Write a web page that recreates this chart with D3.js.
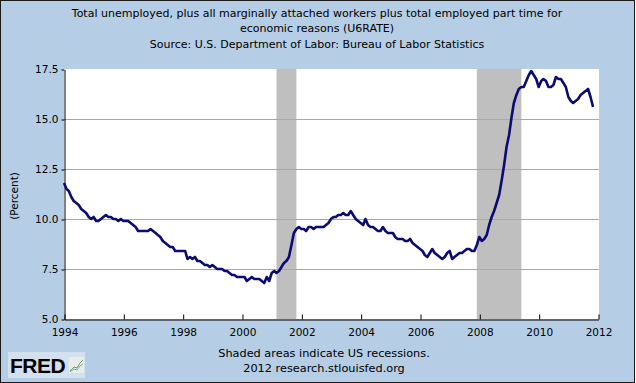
<!DOCTYPE html>
<html>
<head>
<meta charset="utf-8">
<script src="https://cdn.jsdelivr.net/npm/d3@7"></script>
<style>
  html, body { margin: 0; padding: 0; background: #fff; }
  svg { display: block; }
  text { font-family: "DejaVu Sans", Verdana, sans-serif; fill: #000; }
</style>
</head>
<body>
<div id="chart"></div>
<script>
"use strict"

// chart text
const titleLines = [
  "Total unemployed, plus all marginally attached workers plus total employed part time for",
  "economic reasons (U6RATE)",
  "Source: U.S. Department of Labor: Bureau of Labor Statistics"
];
const footerLines = ["Shaded areas indicate US recessions.", "2012 research.stlouisfed.org"];
const yLabel = "(Percent)";

// axis ticks
const yTicks = [5.0, 7.5, 10.0, 12.5, 15.0, 17.5];
const xTickYears = [1994, 1996, 1998, 2000, 2002, 2004, 2006, 2008, 2010, 2012];

// recessions (start month, end month)
const recessionStarts = ["2001-03", "2007-12"];
const recessionEnds = ["2001-11", "2009-06"];

// U6 rate, monthly, one row per year starting Jan 1994
const u6ByYear = [
  [11.8, 11.5, 11.4, 11.1, 10.9, 10.8, 10.7, 10.5, 10.4, 10.3, 10.1, 10.0], // 1994
  [10.1, 9.9, 9.9, 10.0, 10.1, 10.2, 10.1, 10.1, 10.0, 10.0, 9.9, 10.0],    // 1995
  [9.9, 9.9, 9.9, 9.8, 9.7, 9.6, 9.4, 9.4, 9.4, 9.4, 9.4, 9.5],             // 1996
  [9.4, 9.3, 9.2, 9.1, 8.9, 8.8, 8.7, 8.6, 8.6, 8.4, 8.4, 8.4],             // 1997
  [8.4, 8.4, 8.0, 8.1, 8.0, 8.1, 7.9, 7.9, 7.8, 7.7, 7.7, 7.6],             // 1998
  [7.7, 7.6, 7.5, 7.5, 7.5, 7.4, 7.4, 7.3, 7.2, 7.2, 7.1, 7.1],             // 1999
  [7.1, 7.1, 6.9, 7.0, 7.1, 7.0, 7.0, 7.0, 6.9, 6.8, 7.1, 6.9],             // 2000
  [7.3, 7.4, 7.3, 7.4, 7.6, 7.8, 7.9, 8.1, 8.7, 9.3, 9.5, 9.6],             // 2001
  [9.5, 9.5, 9.4, 9.6, 9.6, 9.5, 9.6, 9.6, 9.6, 9.6, 9.7, 9.8],             // 2002
  [10.0, 10.1, 10.1, 10.2, 10.2, 10.3, 10.2, 10.2, 10.4, 10.2, 10.0, 9.9],  // 2003
  [9.8, 9.7, 10.0, 9.7, 9.6, 9.6, 9.5, 9.4, 9.4, 9.6, 9.4, 9.3],            // 2004
  [9.3, 9.3, 9.1, 9.0, 9.0, 9.0, 8.9, 8.9, 9.0, 8.8, 8.7, 8.6],             // 2005
  [8.5, 8.4, 8.2, 8.1, 8.3, 8.5, 8.3, 8.2, 8.1, 8.0, 8.1, 8.3],             // 2006
  [8.4, 8.0, 8.1, 8.2, 8.3, 8.3, 8.4, 8.5, 8.5, 8.4, 8.4, 8.7],             // 2007
  [9.1, 8.9, 9.0, 9.2, 9.7, 10.1, 10.4, 10.8, 11.2, 11.9, 12.7, 13.6],      // 2008
  [14.2, 15.1, 15.8, 16.2, 16.5, 16.6, 16.6, 16.9, 17.2, 17.4, 17.2, 17.0], // 2009
  [16.6, 16.9, 17.0, 16.9, 16.6, 16.6, 16.7, 17.1, 17.0, 17.0, 16.8, 16.6], // 2010
  [16.1, 15.9, 15.8, 15.9, 16.0, 16.2, 16.3, 16.4, 16.5, 16.1, 15.6]        // 2011
];
const firstYear = 1994;

window.addEventListener("load", drawChart);

function buildSeries() {
  let series = [];
  u6ByYear.forEach((row, i) => {
    row.forEach((value, month) => {
      series.push({date: new Date(firstYear + i, month, 1), value: value});
    });
  });
  return series;
}

function drawChart() {
  const width = 636;
  const height = 383;
  const plot = {left: 64, right: 598, top: 69, bottom: 319};

  let series = buildSeries();
  let parseMonth = d3.timeParse("%Y-%m");

  let x = d3.scaleTime()
    .domain([new Date(1994, 0, 1), new Date(2012, 0, 1)])
    .range([plot.left, plot.right]);
  let y = d3.scaleLinear()
    .domain([5, 17.5])
    .range([plot.bottom, plot.top]);

  let svg = d3.select("#chart")
    .append("svg")
      .attr("width", width)
      .attr("height", height);

  // background and frame
  svg.append("rect")
    .attr("x", 0.5).attr("y", 0.5)
    .attr("width", width - 2).attr("height", height - 1)
    .attr("fill", "#b5cde5")
    .attr("stroke", "#1a1a1a");

  svg.append("rect")
    .attr("x", plot.left).attr("y", plot.top)
    .attr("width", plot.right - plot.left + 1).attr("height", plot.bottom - plot.top)
    .attr("fill", "#fff");

  // title
  svg.append("g")
    .selectAll("text")
    .data(titleLines)
    .join("text")
      .attr("x", 317)
      .attr("y", (d, i) => 17 + i * 15.3)
      .attr("text-anchor", "middle")
      .style("font-size", "11px")
      .text(d => d);

  // recession shading
  svg.append("g")
    .selectAll("rect")
    .data(recessionStarts.map((s, i) => [parseMonth(s), parseMonth(recessionEnds[i])]))
    .join("rect")
      .attr("x", d => x(d[0]))
      .attr("y", plot.top)
      .attr("width", d => x(d[1]) - x(d[0]))
      .attr("height", plot.bottom - plot.top)
      .attr("fill", "#bfbfbf");

  // grid lines
  svg.append("g")
    .selectAll("line")
    .data(yTicks.filter(t => t > 5 && t < 17.5))
    .join("line")
      .attr("x1", plot.left)
      .attr("x2", plot.right + 1)
      .attr("y1", d => Math.round(y(d)) + 0.5)
      .attr("y2", d => Math.round(y(d)) + 0.5)
      .attr("stroke", "#a8a8a8")
      .attr("stroke-width", 1);

  // y axis
  let yAxis = svg.append("g")
    .attr("transform", `translate(${plot.left + 0.5},0.5)`)
    .call(d3.axisLeft(y).tickValues(yTicks).tickFormat(d3.format(".1f"))
      .tickSizeInner(3).tickSizeOuter(0).tickPadding(3));
  yAxis.select(".domain").attr("stroke", "#000");
  yAxis.selectAll(".tick line").attr("stroke", "#000");
  yAxis.selectAll("text")
    .style("font-family", "'DejaVu Sans', Verdana, sans-serif")
    .style("font-size", "10.5px")
    .attr("fill", "#000");

  // x axis
  let xAxis = svg.append("g")
    .attr("transform", `translate(0.5,${plot.bottom + 0.5})`)
    .call(d3.axisBottom(x)
      .tickValues(xTickYears.map(yr => new Date(yr, 0, 1)))
      .tickFormat(d3.timeFormat("%Y"))
      .tickSizeInner(-5).tickSizeOuter(0).tickPadding(9));
  xAxis.select(".domain").attr("stroke", "#000");
  xAxis.selectAll(".tick line").attr("stroke", "#000");
  xAxis.selectAll("text")
    .style("font-family", "'DejaVu Sans', Verdana, sans-serif")
    .style("font-size", "10.5px")
    .attr("fill", "#000");

  // y label
  svg.append("text")
    .attr("transform", "translate(18,196) rotate(-90)")
    .attr("text-anchor", "middle")
    .style("font-size", "10.5px")
    .text(yLabel);

  // data line
  let line = d3.line()
    .x(d => x(d.date))
    .y(d => y(d.value));

  svg.append("path")
    .datum(series)
    .attr("d", line)
    .attr("fill", "none")
    .attr("stroke", "#0b0b72")
    .attr("stroke-width", 2.6)
    .attr("stroke-linejoin", "round");

  // footer
  svg.append("g")
    .selectAll("text")
    .data(footerLines)
    .join("text")
      .attr("x", 324)
      .attr("y", (d, i) => 357 + i * 15)
      .attr("text-anchor", "middle")
      .style("font-size", "11.3px")
      .text(d => d);

  drawLogo(svg);
}

// FRED logo in the bottom left corner
function drawLogo(svg) {
  let logo = svg.append("g").attr("transform", "translate(8,352)");
  logo.append("rect")
    .attr("width", 77).attr("height", 26)
    .attr("fill", "#d3e1ef");
  logo.append("text")
    .attr("x", 2).attr("y", 21)
    .style("font-family", "'Liberation Sans', Arial, sans-serif")
    .style("font-weight", "bold")
    .style("font-size", "21px")
    .style("letter-spacing", "-0.5px")
    .attr("fill", "#111")
    .text("FRED");
  let icon = logo.append("g").attr("transform", "translate(61,5)");
  icon.append("rect")
    .attr("width", 15).attr("height", 16)
    .attr("fill", "#e8ecef");
  icon.append("path")
    .attr("d", "M1,14 L5,10 L8,11 L11,6 L14,3")
    .attr("fill", "none").attr("stroke", "#6a9f5a").attr("stroke-width", 1);
  icon.append("path")
    .attr("d", "M1,15 L5,12 L8,13 L11,9 L14,7")
    .attr("fill", "none").attr("stroke", "#7f9fc6").attr("stroke-width", 1);
}
</script>
</body>
</html>
